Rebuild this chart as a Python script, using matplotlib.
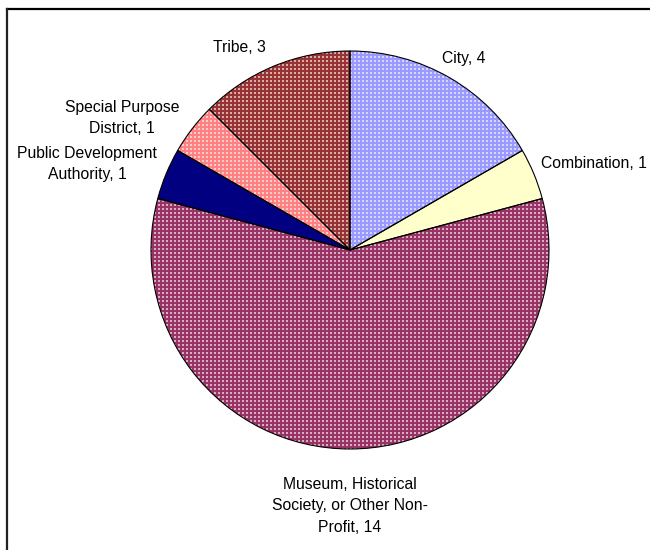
import numpy as np
import matplotlib
matplotlib.use("Agg")
import matplotlib.pyplot as plt
from matplotlib.lines import Line2D
from matplotlib.patches import PathPatch

plt.rcParams["font.family"] = ["Liberation Sans", "DejaVu Sans"]

# Datos del gráfico
categorias = [
    "City",
    "Combination",
    "Museum, Historical\nSociety, or Other Non-\nProfit",
    "Public Development\nAuthority",
    "Special Purpose\nDistrict",
    "Tribe",
]
valores = [4, 1, 14, 1, 1, 3]
colores = ["#9999FF", "#FFFFCC", "#993366", "#000080", "#FF8080", "#993333"]
con_puntos = [True, False, True, False, True, True]

# distancia de la etiqueta (en radios), alineación y ajuste vertical (px)
dist_etiqueta = [1.14, 1.04, 1.12, 1.05, 1.08, 1.10]
alin_h = ["center", "left", "center", "right", "right", "right"]
alin_v = ["center", "center", "top", "center", "center", "center"]
ajuste_y = [-5, 7, -4, 6, 1, 0]

W, H = 650, 550
cx, cy, R = 350, 300, 199  # centro y radio en píxeles (y desde abajo)

fig = plt.figure(figsize=(W / 100, H / 100), dpi=100)
ax = fig.add_axes([0, 0, 1, 1])

cunas, _ = ax.pie(
    valores,
    colors=colores,
    startangle=90,
    counterclock=False,
    radius=1,
    wedgeprops=dict(edgecolor="none", linewidth=0),
    frame=True,
)
ax.set_xlim(-cx / R, (W - cx) / R)
ax.set_ylim(-cy / R, (H - cy) / R)
ax.axis("off")

# patrón de puntos blancos, recortado a cada cuña
paso = 4 / R
rejilla = np.arange(-1.02, 1.02, paso)
gx, gy = np.meshgrid(rejilla, rejilla)
for cuna, puntos in zip(cunas, con_puntos):
    if not puntos:
        continue
    sc = ax.scatter(gx.ravel(), gy.ravel(), s=2.2, marker="s", c="white",
                    alpha=0.6, linewidths=0, zorder=cuna.get_zorder() + 0.1)
    sc.set_clip_path(cuna)

# bordes encima del patrón
for cuna in cunas:
    borde = PathPatch(cuna.get_path(), fill=False, edgecolor="black",
                      linewidth=0.8, zorder=5, transform=cuna.get_transform())
    ax.add_patch(borde)

# etiquetas
for cuna, cat, val, d, ha, va, dy in zip(cunas, categorias, valores,
                                         dist_etiqueta, alin_h, alin_v, ajuste_y):
    ang = np.deg2rad((cuna.theta1 + cuna.theta2) / 2)
    ax.annotate(f"{cat}, {val}", (d * np.cos(ang), d * np.sin(ang)),
                xytext=(0, dy * 0.72), textcoords="offset points",
                ha=ha, va=va, multialignment="center", fontsize=11.3,
                linespacing=1.55, color="black")

# marco del área del gráfico
fig.add_artist(Line2D([7 / W, 1], [1 - 8.5 / H] * 2, color="black",
                      linewidth=1.6, transform=fig.transFigure))
fig.add_artist(Line2D([7 / W] * 2, [0, 1 - 8.5 / H], color="#222222",
                      linewidth=1.6, transform=fig.transFigure))

fig.savefig("out.png", dpi=100)
